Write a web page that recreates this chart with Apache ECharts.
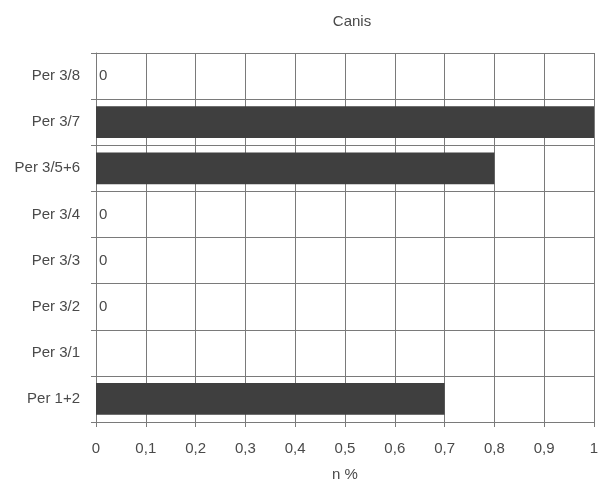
<!DOCTYPE html>
<html><head><meta charset="utf-8">
<script src="https://cdn.jsdelivr.net/npm/echarts@6/dist/echarts.min.js"></script>
<style>html,body{margin:0;padding:0;background:#fff}#c{width:601px;height:479px}</style>
</head><body><div id="c"></div>
<script>
var categories = ['Per 1+2','Per 3/1','Per 3/2','Per 3/3','Per 3/4','Per 3/5+6','Per 3/7','Per 3/8'];
var values = [0.7, null, 0, 0, 0, 0.8, 1, 0];
var xTickLabels = ['0','0,1','0,2','0,3','0,4','0,5','0,6','0,7','0,8','0,9','1'];
var title = 'Canis';
var xName = 'n %';

var chart = echarts.init(document.getElementById('c'), null, {renderer:'canvas'});
var lineC = '#7a7a7a';
var txt = '#4a4a4a';
var ff = 'Liberation Sans, Arial, sans-serif';
chart.setOption({
  animation: false,
  backgroundColor: '#fff',
  title: {text: title, left: 347, top: 9, textAlign: 'center',
    textStyle: {fontSize: 15, fontWeight: 'normal', color: txt, fontFamily: ff}},
  grid: {left: 96, right: 7, top: 53, bottom: 57, containLabel: false, outerBoundsMode: 'none'},
  xAxis: {
    type: 'value', min: 0, max: 1, interval: 0.1,
    name: xName, nameLocation: 'middle', nameGap: 45,
    nameTextStyle: {fontSize: 15, color: txt, fontFamily: ff},
    axisLine: {show: true, lineStyle: {color: lineC, width: 1}},
    axisTick: {show: true, length: 5, lineStyle: {color: lineC}},
    splitLine: {show: true, lineStyle: {color: lineC, width: 1}},
    axisLabel: {fontSize: 15, color: txt, fontFamily: ff, margin: 19,
      formatter: function(v){ return xTickLabels[Math.round(v*10)]; }}
  },
  yAxis: {
    type: 'category', data: categories, boundaryGap: true,
    axisLine: {show: true, lineStyle: {color: lineC, width: 1}},
    axisTick: {show: true, length: 5, inside: false, lineStyle: {color: lineC}},
    splitLine: {show: true, lineStyle: {color: lineC, width: 1}},
    axisLabel: {fontSize: 15, color: txt, fontFamily: ff, margin: 16}
  },
  series: [{
    type: 'bar', data: values, barWidth: '69%',
    itemStyle: {color: '#3f3f3f'},
    label: {show: true, position: 'right', distance: 3, fontSize: 15, color: txt, fontFamily: ff,
      formatter: function(p){ return p.value === 0 ? '0' : ''; }}
  }]
});
</script></body></html>
